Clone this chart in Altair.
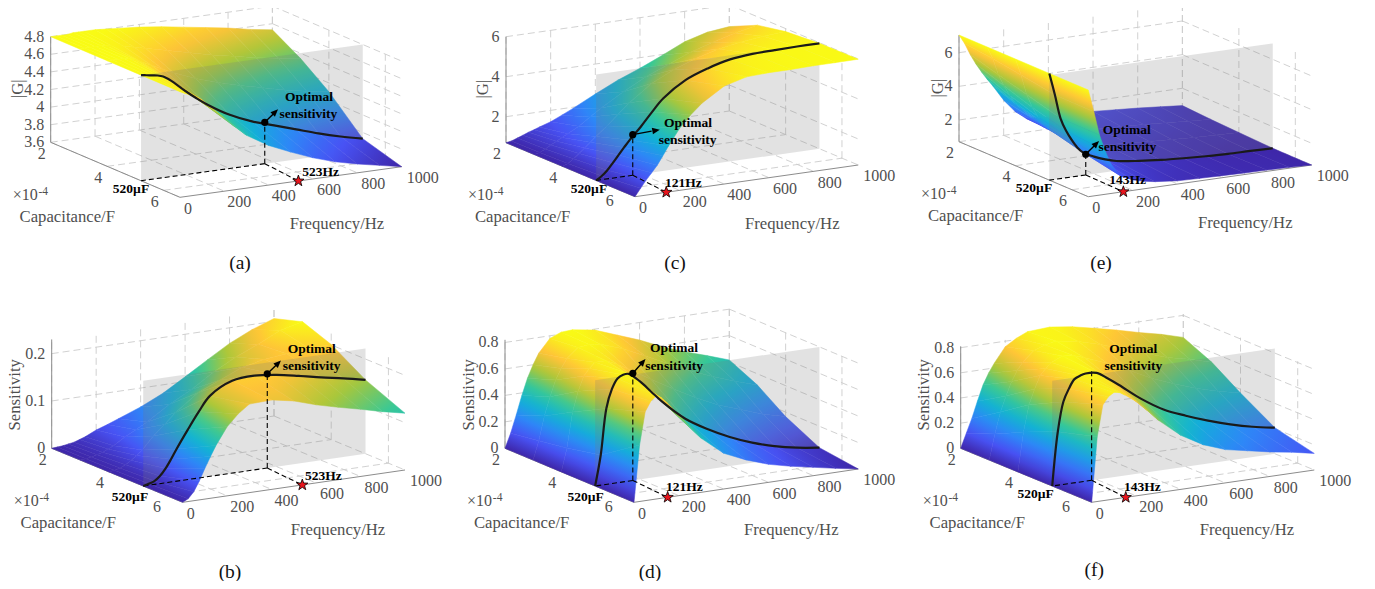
import altair as alt
import numpy as np

FREQ = [0, 25, 50, 75, 100, 125, 150, 200, 250, 300, 400, 500, 600, 700, 800, 900, 1000]
CAP = [2.0, 3.0, 4.0, 5.2, 6.58]

G_A = [[4.8,4.8,4.8,4.8,4.81,4.81,4.81,4.81,4.80,4.79,4.77,4.74,4.70,4.66,4.62,4.57,4.53],
       [4.8,4.8,4.8,4.8,4.80,4.79,4.78,4.76,4.73,4.70,4.64,4.58,4.52,4.47,4.42,4.38,4.34],
       [4.8,4.8,4.8,4.8,4.79,4.77,4.74,4.68,4.62,4.56,4.46,4.38,4.31,4.25,4.19,4.14,4.10],
       [4.8,4.79,4.78,4.77,4.75,4.71,4.66,4.55,4.45,4.36,4.21,4.10,4.02,3.94,3.86,3.79,3.73],
       [4.8,4.77,4.74,4.71,4.67,4.61,4.55,4.43,4.31,4.2,4.05,3.94,3.84,3.76,3.70,3.65,3.6]]
S_B = [[0,.001,.002,.004,.006,.01,.014,.025,.033,.042,.06,.082,.11,.139,.167,.189,.206],
       [0,.001,.003,.006,.01,.015,.02,.035,.047,.06,.09,.115,.145,.17,.19,.213,.224],
       [0,.002,.005,.01,.018,.026,.036,.062,.083,.105,.14,.16,.18,.19,.195,.20,.201],
       [0,.003,.007,.016,.03,.048,.068,.105,.14,.17,.195,.199,.194,.185,.175,.166,.156],
       [0,.006,.019,.04,.065,.088,.11,.146,.17,.187,.189,.18,.165,.153,.142,.13,.12]]
G_C = [[.7,.75,.85,.95,1.06,1.15,1.25,1.43,1.68,1.94,2.5,3.03,3.47,3.96,4.48,4.79,4.92],
       [.7,.76,.9,1.05,1.2,1.35,1.5,1.8,2.18,2.55,3.2,3.8,4.25,4.7,5.05,5.35,5.58],
       [.7,.8,1.0,1.22,1.45,1.7,1.95,2.4,2.9,3.4,4.2,4.75,5.15,5.45,5.65,5.78,5.85],
       [.7,.88,1.13,1.46,1.81,2.15,2.48,3.07,3.72,4.32,5.08,5.51,5.8,5.92,5.95,5.97,5.97],
       [.7,1.08,1.45,1.78,2.12,2.55,3.0,3.8,4.4,4.9,5.6,5.9,5.95,5.95,5.98,5.98,5.99]]
S_D = [[0,.107,.24,.38,.504,.60,.68,.78,.815,.82,.793,.73,.667,.592,.529,.474,.416],
       [0,.14,.32,.46,.58,.66,.73,.80,.81,.80,.74,.66,.58,.50,.43,.37,.315],
       [0,.175,.44,.59,.70,.75,.79,.79,.75,.70,.60,.50,.41,.33,.27,.21,.166],
       [0,.228,.574,.715,.788,.81,.81,.74,.65,.56,.41,.305,.22,.152,.10,.063,.038],
       [0,.427,.672,.745,.78,.755,.71,.61,.505,.408,.27,.194,.136,.096,.063,.03,0]]
G_E = [[7.05,6.5,5.8,5.2,4.68,4.2,3.76,2.8,2.05,1.53,1.42,1.38,1.38,1.29,1.2,1.09,.97],
       [7.05,6.3,5.3,4.6,4.0,3.5,3.15,2.45,1.85,1.45,1.3,1.25,1.2,1.12,1.05,.95,.87],
       [7.05,6.05,4.85,4.05,3.45,3.0,2.6,2.1,1.65,1.35,1.2,1.1,1.02,.95,.88,.84,.8],
       [7.05,5.72,4.29,3.5,2.91,2.42,2.08,1.73,1.47,1.28,1.1,.97,.88,.81,.76,.75,.72],
       [7.05,5.71,4.28,3.3,2.5,2.0,1.62,1.33,1.15,1.04,.9,.86,.83,.8,.79,.76,.71]]
S_F = [[0,.113,.225,.355,.477,.565,.636,.756,.81,.85,.861,.838,.80,.76,.715,.675,.625],
       [0,.2,.37,.49,.60,.68,.74,.82,.85,.87,.84,.79,.73,.67,.61,.57,.52],
       [0,.31,.52,.64,.74,.79,.83,.87,.86,.83,.76,.68,.59,.52,.46,.41,.37],
       [0,.425,.657,.755,.824,.845,.856,.848,.79,.726,.59,.48,.405,.34,.285,.24,.207],
       [0,.515,.76,.82,.848,.84,.814,.75,.665,.575,.43,.33,.265,.23,.195,.167,.132]]

F_TICKS = [0, 200, 400, 600, 800, 1000]
C_TICKS = [2, 4, 6]
F_LABEL_DX = [8, 15, 15, 16, 16, 21]

PANELS = [
    dict(g=G_A, L=(50.7,142.3), F=(180,197.3), R=(401.7,166.7), zs=88, zb=3.6, zt=4.8, cmax=4.8, ptop=4.8,
         zticks=[3.6,3.8,4.0,4.2,4.4,4.6,4.8], zlabels=["3.6","3.8","4","4.2","4.4","4.6","4.8"], ztitle="|G|", ztx=-32.7,
         fd=558, fs=534, zd=4.07, arrow=(13.3,-13), flabel="523Hz", fl=(320.7,171.7), cl=(131,189.3),
         op=(309,97.3), se=(308.3,114), cap="(a)", capxy=(240,263)),
    dict(g=S_B, L=(51.7,448.3), F=(182.7,502.3), R=(405,470), zs=473.3, zb=0, zt=.23, cmax=.224, ptop=.2225,
         zticks=[0,.1,.2], zlabels=["0","0.1","0.2"], ztitle="Sensitivity", ztx=-36.7,
         fd=558, fs=538, zd=.199, arrow=(13.7,-13.3), flabel="523Hz", fl=(323.3,476), cl=(130,496.7),
         op=(311.7,349), se=(311.7,365.7), cap="(b)", capxy=(230,571.7)),
    dict(g=G_C, L=(506,142.7), F=(635,196.7), R=(858.3,165), zs=20, zb=.7, zt=6, cmax=6, ptop=6,
         zticks=[2,4,6], zlabels=["2","4","6"], ztitle="|G|", ztx=-23.3,
         fd=164, fs=140, zd=2.73, arrow=(27,-5), flabel="121Hz", fl=(683.3,182.7), cl=(589,189.3),
         op=(688,123.3), se=(687.7,140), cap="(c)", capxy=(675,263)),
    dict(g=S_D, L=(505,448.3), F=(634,502.3), R=(858.3,469), zs=132.3, zb=0, zt=.82, cmax=.82, ptop=.8,
         zticks=[0,.2,.4,.6,.8], zlabels=["0","0.2","0.4","0.6","0.8"], ztitle="Sensitivity", ztx=-36,
         fd=168, fs=150, zd=.81, arrow=(12.7,-14.3), flabel="121Hz", fl=(684.3,486.7), cl=(585.7,496.7),
         op=(674,348.3), se=(674,365.7), cap="(d)", capxy=(650,571.7)),
    dict(g=G_E, L=(959,141.7), F=(1088.3,196.7), R=(1311.7,165), zs=16.83, zb=.71, zt=7.05, cmax=7.05, ptop=6.95,
         zticks=[2,4,6], zlabels=["2","4","6"], ztitle="|G|", ztx=-20.7,
         fd=163, fs=157, zd=1.94, arrow=(13.3,-13.3), flabel="143Hz", fl=(1127.7,180), cl=(1034,188.3),
         op=(1126.7,130), se=(1127.3,146.7), cap="(e)", capxy=(1101,263)),
    dict(g=S_F, L=(960.7,448.3), F=(1091.7,502.3), R=(1314.3,470), zs=125.8, zb=0, zt=.81, cmax=.87, ptop=.837,
         zticks=[0,.2,.4,.6,.8], zlabels=["0","0.2","0.4","0.6","0.8"], ztitle="Sensitivity", ztx=-36.7,
         fd=177, fs=153, zd=.866, arrow=None, flabel="143Hz", fl=(1142.3,486.7), cl=(1035.7,494.3),
         op=(1133.3,349), se=(1133.3,365.7), cap="(f)", capxy=(1094.3,570)),
]

PARULA = np.array([[.2422,.1504,.6603],[.2810,.3228,.9579],[.1786,.5289,.9682],[.0689,.6948,.8394],
                   [.2161,.7843,.5923],[.6720,.7793,.2227],[.9970,.7659,.2199],[.9769,.9839,.0805]])
OFF = 8
CP, CM = 5.2, 6.58
SERIF = "Liberation Serif"


def parula(v):
    v = min(max(v, 0), 1) * (len(PARULA) - 1)
    i = min(int(v), len(PARULA) - 2)
    c = PARULA[i] + (PARULA[i + 1] - PARULA[i]) * (v - i)
    return "#%02x%02x%02x" % tuple(int(round(x * 255)) for x in c)


def proj(p, f, c, z):
    t = (c - 2) / (CM - 2)
    fr = f / 1000
    (lx, ly), (fx, fy), (rx, ry) = p["L"], p["F"], p["R"]
    return (lx + t * (fx - lx) + fr * (rx - fx) - OFF,
            ly + t * (fy - ly) + fr * (ry - fy) - (z - p["zb"]) * p["zs"] - OFF)


def shading(pts, zs, zmin, zmax):
    """Linear shading of one mesh cell, in the cell's bounding-box units."""
    pts = np.array(pts)
    lo = pts.min(axis=0)
    span = np.maximum(pts.max(axis=0) - lo, 1e-6)
    uv = (pts - lo) / span
    A = np.c_[uv, np.ones(4)]
    (a, b, c0), *_ = np.linalg.lstsq(A, np.array(zs), rcond=None)
    n = float(np.hypot(a, b))
    if n < 1e-9:
        a, b, n = 0.0, 1.0, 1.0
    d = np.array([a, b]) / n
    s = uv @ d
    s0, s1 = float(s.min()), float(s.max())
    stops = []
    for k in range(6):
        q = k / 5
        z = c0 + n * (s0 + (s1 - s0) * q)
        stops.append({"offset": q, "color": parula((z - zmin) / (zmax - zmin))})
    return {"gradient": "linear", "x1": float(d[0] * s0), "y1": float(d[1] * s0),
            "x2": float(d[0] * s1), "y2": float(d[1] * s1), "stops": stops}


def line(a, b):
    return {"type": "Feature", "properties": {},
            "geometry": {"type": "LineString", "coordinates": [list(a), list(b)]}}


def poly(pts, **props):
    ring = [list(q) for q in pts] + [list(pts[0])]
    return {"type": "Feature", "properties": props, "geometry": {"type": "Polygon", "coordinates": [ring]}}


grid, axes, back, front, planes, dashes, arrows, heads = [], [], [], [], [], [], [], []
curve, dots, stars = [], [], []
ticks_txt, titles, rot, sup, times, bold, caps = [], [], [], [], [], [], []

for n, p in enumerate(PANELS):
    zb, zt = p["zb"], p["zt"]
    for f in F_TICKS:
        grid.append(line(proj(p, f, 2, zb), proj(p, f, CM, zb)))
        grid.append(line(proj(p, f, 2, zb), proj(p, f, 2, zt)))
    for c in C_TICKS:
        grid.append(line(proj(p, 0, c, zb), proj(p, 1000, c, zb)))
        grid.append(line(proj(p, 1000, c, zb), proj(p, 1000, c, zt)))
    for z in p["zticks"]:
        if z > zb + 1e-6:
            grid.append(line(proj(p, 0, 2, z), proj(p, 1000, 2, z)))
            grid.append(line(proj(p, 1000, 2, z), proj(p, 1000, CM, z)))
    axes += [line(proj(p, 0, 2, zb), proj(p, 0, CM, zb)), line(proj(p, 0, CM, zb), proj(p, 1000, CM, zb)),
             line(proj(p, 0, 2, zb), proj(p, 0, 2, zt))]

    cmin = min(min(r) for r in p["g"])
    for j in range(len(CAP) - 1):
        for i in range(len(FREQ) - 2, -1, -1):
            idx = [(i, j), (i + 1, j), (i + 1, j + 1), (i, j + 1)]
            pts = [proj(p, FREQ[a], CAP[b], p["g"][b][a]) for a, b in idx]
            zz = [p["g"][b][a] for a, b in idx]
            feat = poly(pts, grad=shading(pts, zz, cmin, p["cmax"]))
            (front if CAP[j] >= CP else back).append(feat)

    planes.append(poly([proj(p, 0, CP, zb), proj(p, 1000, CP, zb), proj(p, 1000, CP, p["ptop"]), proj(p, 0, CP, p["ptop"])]))

    for i, f in enumerate(FREQ):
        x, y = proj(p, f, CP, p["g"][3][i])
        curve.append({"x": x, "y": y, "i": i, "p": n})

    base = proj(p, p["fd"], CP, zb)
    top = proj(p, p["fd"], CP, p["zd"])
    star = proj(p, p["fs"], CM, zb)
    dashes += [line(base, top), line(base, star), line(base, proj(p, 0, CP, zb))]
    stars.append({"x": star[0], "y": star[1]})
    if p["arrow"]:
        dots.append({"x": top[0], "y": top[1]})
        dx, dy = p["arrow"]
        tip = (top[0] + dx, top[1] + dy)
        arrows.append(line(top, (top[0] + dx * .7, top[1] + dy * .7)))
        u = np.array([dx, dy]) / np.hypot(dx, dy)
        w = np.array([-u[1], u[0]])
        bk = np.array(tip) - u * 7.5
        heads.append(poly([tip, tuple(bk + w * 3.2), tuple(bk - w * 3.2)]))

    lx, ly = p["L"]
    for z, s in zip(p["zticks"], p["zlabels"]):
        x, y = proj(p, 0, 2, z)
        ticks_txt.append({"x": x - 6.4, "y": y, "t": s, "a": "r"})
    for c in C_TICKS:
        x, y = proj(p, 0, c, zb)
        ticks_txt.append({"x": x - 9, "y": y + 11.3, "t": str(c), "a": "c"})
    for f, dx in zip(F_TICKS, F_LABEL_DX):
        x, y = proj(p, f, CM, zb)
        ticks_txt.append({"x": x + dx, "y": y + 11.3, "t": str(f), "a": "c"})
    titles.append({"x": lx + 16.6 - OFF, "y": ly + 74.4 - OFF, "t": "Capacitance/F"})
    titles.append({"x": lx + 286.3 - OFF, "y": ly + 81.6 - OFF, "t": "Frequency/Hz"})
    rot.append({"x": lx + p["ztx"] - OFF, "y": ly - 53.5 - OFF, "t": p["ztitle"]})
    times.append({"x": lx - 25.4 - OFF, "y": ly + 52.7 - OFF, "t": "\u00d710"})
    sup.append({"x": lx - 7.4 - OFF, "y": ly + 49.4 - OFF, "t": "-4"})
    for (x, y), s in [(p["fl"], p["flabel"]), (p["cl"], "520\u00b5F"), (p["op"], "Optimal"), (p["se"], "sensitivity")]:
        bold.append({"x": x - OFF, "y": y - OFF, "t": s})
    caps.append({"x": p["capxy"][0] - OFF, "y": p["capxy"][1] - OFF, "t": p["cap"]})

PROJ = dict(type="identity", scale=1, translate=[0, 0])


def geo_lines(feats, **kw):
    return alt.Chart(alt.Data(values=feats)).mark_geoshape(filled=False, **kw).project(**PROJ)


def surface(feats):
    return alt.Chart(alt.Data(values=feats)).mark_geoshape(strokeWidth=0.5).encode(
        fill=alt.Fill("properties.grad:N", scale=None),
        stroke=alt.Stroke("properties.grad:N", scale=None)).project(**PROJ)


def label(rows, **kw):
    return alt.Chart(alt.Data(values=rows)).mark_text(font=SERIF, baseline="middle", **kw).encode(
        longitude="x:Q", latitude="y:Q", text="t:N").project(**PROJ)


LABEL_GREY = "#4f4f4f"
layers = [
    geo_lines(grid, stroke="#cccccc", strokeWidth=0.9, strokeDash=[7, 4]),
    geo_lines(axes, stroke="#8c8c8c", strokeWidth=1),
    surface(back),
    alt.Chart(alt.Data(values=planes)).mark_geoshape(fill="#7a7a7a", fillOpacity=0.22, stroke=None).project(**PROJ),
    surface(front),
    geo_lines(dashes, stroke="#000000", strokeWidth=1.1, strokeDash=[5, 3]),
    alt.Chart(alt.Data(values=curve)).mark_line(color="#1a1a1a", strokeWidth=2.2, interpolate="catmull-rom").encode(
        longitude="x:Q", latitude="y:Q", detail="p:N", order="i:Q").project(**PROJ),
    geo_lines(arrows, stroke="#000000", strokeWidth=1.4),
    alt.Chart(alt.Data(values=heads)).mark_geoshape(fill="#000000", stroke=None).project(**PROJ),
    alt.Chart(alt.Data(values=dots)).mark_circle(size=52, color="#000000", opacity=1).encode(
        longitude="x:Q", latitude="y:Q").project(**PROJ),
    alt.Chart(alt.Data(values=stars)).mark_point(
        shape="M0,-1L0.235,-0.324L0.951,-0.309L0.38,0.124L0.588,0.809L0,0.4L-0.588,0.809L-0.38,0.124L-0.951,-0.309L-0.235,-0.324Z",
        size=140, filled=True, fill="#e8141c", stroke="#000000", strokeWidth=0.8, opacity=1).encode(
        longitude="x:Q", latitude="y:Q").project(**PROJ),
    label([r for r in ticks_txt if r["a"] == "r"], align="right", fontSize=16, color=LABEL_GREY),
    label([r for r in ticks_txt if r["a"] == "c"], align="center", fontSize=16, color=LABEL_GREY),
    label(titles, align="center", fontSize=16.7, color=LABEL_GREY),
    label(rot, align="center", fontSize=16.7, color=LABEL_GREY, angle=270),
    label(times, align="center", fontSize=16, color=LABEL_GREY),
    label(sup, align="center", fontSize=11.5, color=LABEL_GREY),
    label(bold, align="center", fontSize=13.5, fontWeight="bold", color="#000000"),
    label(caps, align="center", fontSize=19.5, color="#111111"),
]

chart = alt.layer(*layers).properties(width=1345, height=573, padding=0, autosize=alt.AutoSizeParams(type="none")).configure_view(stroke=None)
chart.save("out.html", embed_options={"renderer": "svg", "actions": False})
